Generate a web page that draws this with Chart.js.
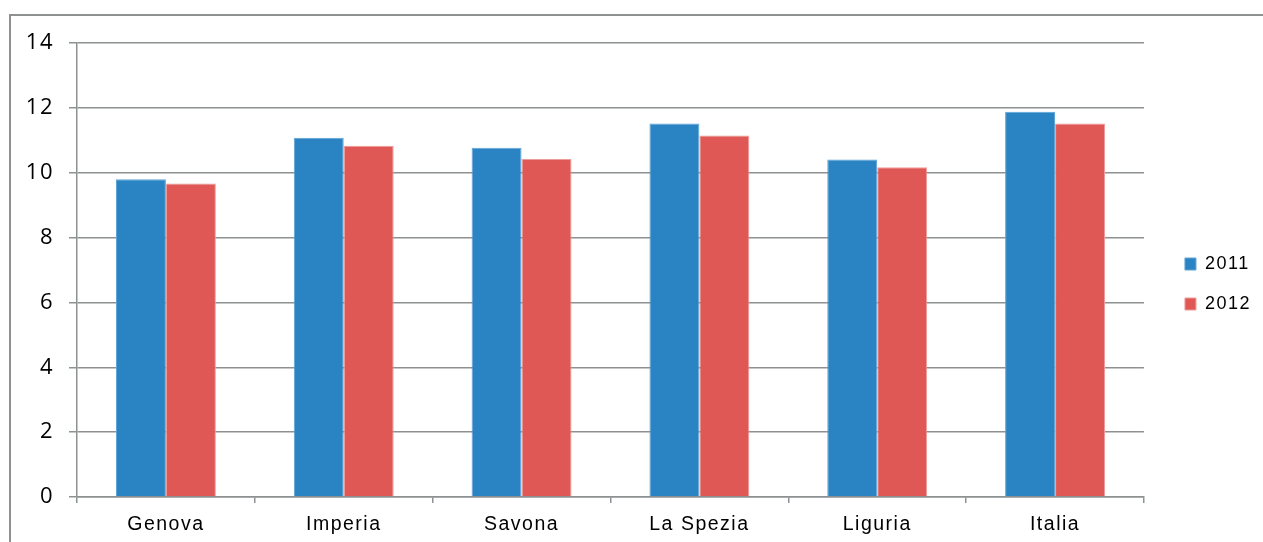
<!DOCTYPE html>
<html>
<head>
<meta charset="utf-8">
<script src="https://cdn.jsdelivr.net/npm/chart.js@4.4.1/dist/chart.umd.min.js"></script>
<style>
  html, body { margin: 0; padding: 0; background: #fff; overflow: hidden; }
  #frame { position: absolute; left: 9px; top: 14px; width: 1300px; height: 600px;
           border-left: 2px solid #8e9191; border-top: 2px solid #8e9191; }
  #wrap { position: absolute; left: 0; top: 0; width: 1263px; height: 542px; }
</style>
</head>
<body>
<div id="frame"></div>
<div id="wrap"><canvas id="c" width="1263" height="542"></canvas></div>
<script>
const categories = ['Genova', 'Imperia', 'Savona', 'La Spezia', 'Liguria', 'Italia'];
const values2011 = [9.80, 11.08, 10.77, 11.52, 10.41, 11.88];
const values2012 = [9.67, 10.83, 10.42, 11.15, 10.17, 11.52];
const seriesNames = ['2011', '2012'];
const yTicks = [0, 2, 4, 6, 8, 10, 12, 14];

const spacingPlugin = {
  id: 'spacing',
  beforeUpdate(chart) { chart.ctx.letterSpacing = '1.5px'; },
  beforeDraw(chart) { chart.ctx.letterSpacing = '1.5px'; }
};

new Chart(document.getElementById('c'), {
  type: 'bar',
  data: {
    labels: categories,
    datasets: [
      { label: seriesNames[0], data: values2011, backgroundColor: '#2A84C4', borderColor: '#5EA3D6', borderWidth: 1 },
      { label: seriesNames[1], data: values2012, backgroundColor: '#DF5856', borderColor: '#EE9C9A', borderWidth: 1 }
    ]
  },
  options: {
    responsive: false,
    animation: false,
    devicePixelRatio: 1,
    layout: { padding: { left: 0, top: 43, right: 2, bottom: 0 } },
    datasets: { bar: { categoryPercentage: 100 / 178, barPercentage: 1 } },
    plugins: {
      legend: {
        position: 'right',
        align: 'center',
        fullSize: false,
        title: { display: true, text: ' ', padding: 8, font: { size: 10, lineHeight: 1.2 } },
        labels: {
          boxWidth: 11, boxHeight: 12, padding: 22,
          color: '#000',
          font: { family: "'Liberation Sans', Arial, sans-serif", size: 18 }
        }
      },
      tooltip: { enabled: false }
    },
    scales: {
      x: {
        offset: true,
        grid: { display: true, drawOnChartArea: false, drawTicks: true, tickLength: 6, color: '#8e9191', lineWidth: 1.5, offset: true },
        border: { display: true, color: '#8e9191', width: 1.5 },
        ticks: { color: '#000', padding: 10, font: { family: "'Liberation Sans', Arial, sans-serif", size: 19.5 }, maxRotation: 0 },
        afterFit(scale) { scale.height = 45; }
      },
      y: {
        min: 0, max: 14,
        afterBuildTicks(scale) { scale.ticks = yTicks.map(v => ({ value: v })); },
        grid: { color: '#8e9191', lineWidth: 1.5, tickLength: 8, drawTicks: true },
        border: { display: true, color: '#8e9191', width: 1.5 },
        ticks: { color: '#000', padding: 15, font: { family: "'Open Sans', sans-serif", size: 22 } },
        afterFit(scale) { scale.width = 77; }
      },
      yPad: {
        type: 'linear',
        position: 'right',
        display: true,
        grid: { display: false, drawTicks: false },
        border: { display: false },
        ticks: { display: false },
        afterFit(scale) { scale.width = 19; }
      }
    }
  },
  plugins: [spacingPlugin]
});
</script>
</body>
</html>
